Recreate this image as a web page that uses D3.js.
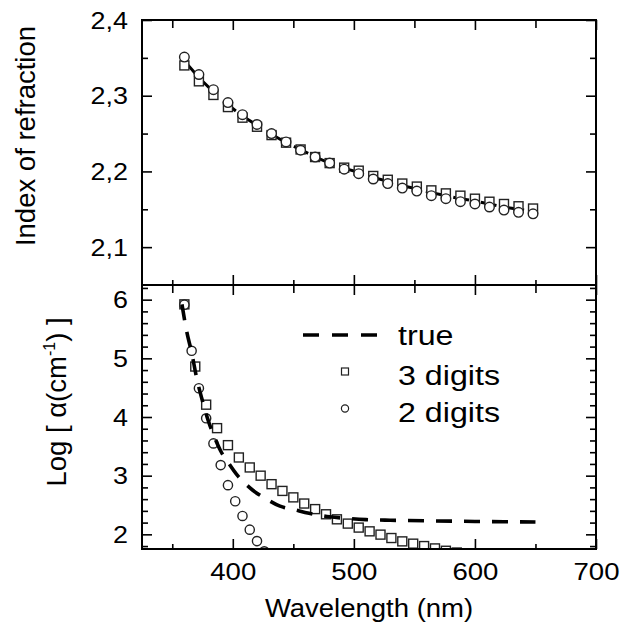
<!DOCTYPE html>
<html>
<head>
<meta charset="utf-8">
<script src="https://cdn.jsdelivr.net/npm/d3@7"></script>
<style>
  body { margin: 0; background: #fff; }
  text { font-family: "Liberation Sans", Arial, sans-serif; fill: #000; }
</style>
</head>
<body>
<div class="chart"></div>
<script>
// ---- data ----
// top panel: index of refraction
var wlTop = [360, 372, 384, 396, 408, 420, 432, 444, 456, 468, 480, 492, 504,
             516, 528, 540, 552, 564, 576, 588, 600, 612, 624, 636, 648];
var nTrue = [2.346, 2.324, 2.305, 2.288, 2.273, 2.261, 2.249, 2.238, 2.229, 2.219, 2.211, 2.204, 2.199,
             2.192, 2.187, 2.181, 2.177, 2.172, 2.168, 2.164, 2.161, 2.157, 2.153, 2.150, 2.148];
var nThree = [2.340, 2.319, 2.301, 2.285, 2.271, 2.259, 2.248, 2.238, 2.229, 2.219, 2.211, 2.205, 2.201,
              2.194, 2.189, 2.184, 2.180, 2.175, 2.171, 2.168, 2.164, 2.160, 2.157, 2.154, 2.151];
var nTwo = [2.351, 2.328, 2.308, 2.291, 2.275, 2.262, 2.250, 2.239, 2.228, 2.219, 2.211, 2.203, 2.197,
            2.190, 2.184, 2.178, 2.174, 2.168, 2.164, 2.160, 2.157, 2.153, 2.149, 2.146, 2.144];

// bottom panel: log of absorption coefficient
var wlLogTrue = [358, 362, 366, 370, 375, 380, 385, 390, 396, 404, 410, 416, 428, 439,
                 451, 463, 480, 495, 510, 530, 560, 600, 650];
var logTrue = [5.92, 5.45, 5.10, 4.68, 4.27, 3.92, 3.65, 3.42, 3.23, 3.00, 2.87, 2.76, 2.60, 2.48,
               2.42, 2.36, 2.30, 2.27, 2.25, 2.24, 2.23, 2.22, 2.21];
var wlThree = [360, 369, 378, 387, 396, 405, 414, 423, 432, 441, 450, 459, 468,
               477, 486, 495, 504, 513, 522, 531, 540, 549, 558, 567, 576, 585];
var logThree = [5.92, 4.86, 4.21, 3.81, 3.52, 3.31, 3.14, 3.00, 2.855, 2.74, 2.63, 2.525, 2.43,
                2.342, 2.256, 2.183, 2.115, 2.051, 1.995, 1.937, 1.88, 1.841, 1.80, 1.76, 1.72, 1.69];
var wlTwo = [360, 366, 372, 378, 384, 390, 396, 402, 408, 414, 420, 426];
var logTwo = [5.915, 5.128, 4.49, 3.978, 3.55, 3.18, 2.838, 2.564, 2.313, 2.08, 1.885, 1.71];

// ticks
var xLabelTicks = [400, 500, 600, 700];
var xAllTicks = [350, 400, 450, 500, 550, 600, 650, 700];
var nLabelTicks = [2.1, 2.2, 2.3, 2.4];
var nAllTicks = [2.1, 2.15, 2.2, 2.25, 2.3, 2.35, 2.4];
var logLabelTicks = [2, 3, 4, 5, 6];
var legendNames = ["true", "3 digits", "2 digits"];

// ---- layout ----
var svgWidth = 626, svgHeight = 633;
var left = 142, right = 596;
var topY0 = 20, midY = 285, botY1 = 549;

var svg = d3.select(".chart").append("svg")
  .attr("width", svgWidth)
  .attr("height", svgHeight);

var x = d3.scaleLinear().domain([325, 700]).range([left, right]);
var yTop = d3.scaleLinear().domain([2.05, 2.4]).range([midY, topY0]);
var yBot = d3.scaleLinear().domain([1.75, 6.25]).range([botY1, midY]);

var commaFmt = d3.formatLocale({decimal: ",", thousands: ".", grouping: [3], currency: ["", ""]}).format(".1f");

// minor tick values for log axis (every 0.2)
var logMinor = [];
for (var v = 1.8; v <= 6.2001; v += 0.2) logMinor.push(+v.toFixed(1));

// inward ticks helper
function ticks(axisMaker, scale, values, size, tx, ty) {
  svg.append("g")
    .attr("transform", "translate(" + tx + "," + ty + ")")
    .call(axisMaker(scale).tickValues(values).tickSizeInner(size).tickSizeOuter(0).tickFormat(""))
    .call(function(g) { g.select(".domain").remove(); })
    .selectAll("line").attr("stroke", "#000").attr("stroke-width", 1.6);
}

var isMajorX = function(d) { return d % 100 === 0; };

// top panel ticks
ticks(d3.axisTop, x, xAllTicks.filter(isMajorX), -10, 0, topY0);
ticks(d3.axisTop, x, xAllTicks.filter(function(d) { return !isMajorX(d); }), -8, 0, topY0);
ticks(d3.axisBottom, x, xAllTicks.filter(isMajorX), -10, 0, midY);
ticks(d3.axisBottom, x, xAllTicks.filter(function(d) { return !isMajorX(d); }), -5, 0, midY);
ticks(d3.axisLeft, yTop, nLabelTicks, -10, left, 0);
ticks(d3.axisLeft, yTop, [2.15, 2.25, 2.35], -6, left, 0);
ticks(d3.axisRight, yTop, nLabelTicks, -10, right, 0);
ticks(d3.axisRight, yTop, [2.15, 2.25, 2.35], -6, right, 0);

// bottom panel ticks
ticks(d3.axisTop, x, xAllTicks.filter(isMajorX), -10, 0, midY);
ticks(d3.axisTop, x, xAllTicks.filter(function(d) { return !isMajorX(d); }), -8, 0, midY);
ticks(d3.axisBottom, x, xAllTicks.filter(isMajorX), -10, 0, botY1);
ticks(d3.axisBottom, x, xAllTicks.filter(function(d) { return !isMajorX(d); }), -5, 0, botY1);
ticks(d3.axisLeft, yBot, logLabelTicks, -10, left, 0);
ticks(d3.axisLeft, yBot, logMinor.filter(function(d) { return d % 1 !== 0; }), -6, left, 0);
ticks(d3.axisRight, yBot, logLabelTicks, -10, right, 0);
ticks(d3.axisRight, yBot, logMinor.filter(function(d) { return d % 1 !== 0; }), -6, right, 0);

// tick labels (stretched a little sideways, like the original)
function labels(axisMaker, scale, values, fmt, tx, ty, place) {
  var g = svg.append("g")
    .attr("transform", "translate(" + tx + "," + ty + ")")
    .call(axisMaker(scale).tickValues(values).tickSize(0).tickFormat(fmt));
  g.select(".domain").remove();
  g.selectAll("text")
    .attr("x", null).attr("y", null).attr("dy", null)
    .attr("font-size", 23)
    .attr("transform", place);
}
labels(d3.axisLeft, yTop, nLabelTicks, commaFmt, left, 0, "translate(-14,8) scale(1.17,1)");
labels(d3.axisLeft, yBot, logLabelTicks, d3.format("d"), left, 0, "translate(-14,8) scale(1.17,1)");
labels(d3.axisBottom, x, xLabelTicks, d3.format("d"), 0, botY1, "translate(0,31) scale(1.2,1)");

// frames
svg.append("rect").attr("x", left).attr("y", topY0).attr("width", right - left).attr("height", midY - topY0)
  .attr("fill", "none").attr("stroke", "#000").attr("stroke-width", 2);
svg.append("rect").attr("x", left).attr("y", midY).attr("width", right - left).attr("height", botY1 - midY)
  .attr("fill", "none").attr("stroke", "#000").attr("stroke-width", 2);

// clip paths
var defs = svg.append("defs");
defs.append("clipPath").attr("id", "clipTop").append("rect")
  .attr("x", left).attr("y", topY0).attr("width", right - left).attr("height", midY - topY0);
defs.append("clipPath").attr("id", "clipBot").append("rect")
  .attr("x", left).attr("y", midY + 1).attr("width", right - left).attr("height", botY1 - midY - 2);

var markerStroke = "#222";

// ---- top panel ----
var gTop = svg.append("g").attr("clip-path", "url(#clipTop)");
gTop.append("path")
  .datum(wlTop.map(function(w, i) { return [w, nTrue[i]]; }))
  .attr("fill", "none").attr("stroke", "#000").attr("stroke-width", 3)
  .attr("stroke-dasharray", "16,12")
  .attr("d", d3.line().x(function(d) { return x(d[0]); }).y(function(d) { return yTop(d[1]); }));
gTop.selectAll("rect.sq").data(wlTop).enter().append("rect").attr("class", "sq")
  .attr("x", function(d) { return x(d) - 4.5; })
  .attr("y", function(d, i) { return yTop(nThree[i]) - 4.5; })
  .attr("width", 9).attr("height", 9)
  .attr("fill", "#fff").attr("stroke", markerStroke).attr("stroke-width", 1.4);
gTop.selectAll("circle").data(wlTop).enter().append("circle")
  .attr("cx", function(d) { return x(d); })
  .attr("cy", function(d, i) { return yTop(nTwo[i]); })
  .attr("r", 4.8)
  .attr("fill", "#fff").attr("stroke", markerStroke).attr("stroke-width", 1.4);

// ---- bottom panel ----
var gBot = svg.append("g").attr("clip-path", "url(#clipBot)");
gBot.selectAll("rect.sq").data(wlThree).enter().append("rect").attr("class", "sq")
  .attr("x", function(d) { return x(d) - 4.5; })
  .attr("y", function(d, i) { return yBot(logThree[i]) - 4.5; })
  .attr("width", 9).attr("height", 9)
  .attr("fill", "#fff").attr("stroke", markerStroke).attr("stroke-width", 1.4);
gBot.selectAll("circle").data(wlTwo).enter().append("circle")
  .attr("cx", function(d) { return x(d); })
  .attr("cy", function(d, i) { return yBot(logTwo[i]); })
  .attr("r", 4.6)
  .attr("fill", "#fff").attr("stroke", markerStroke).attr("stroke-width", 1.4);
gBot.append("path")
  .datum(wlLogTrue.map(function(w, i) { return [w, logTrue[i]]; }))
  .attr("fill", "none").attr("stroke", "#000").attr("stroke-width", 3.6)
  .attr("stroke-dasharray", "16,12")
  .attr("d", d3.line().curve(d3.curveMonotoneX).x(function(d) { return x(d[0]); }).y(function(d) { return yBot(d[1]); }));

// ---- legend ----
var legend = svg.append("g");
legend.append("line").attr("x1", 303).attr("x2", 378).attr("y1", 335).attr("y2", 335)
  .attr("stroke", "#000").attr("stroke-width", 3.6).attr("stroke-dasharray", "16,13");
legend.append("rect").attr("x", 341.5).attr("y", 368).attr("width", 7).attr("height", 7)
  .attr("fill", "#fff").attr("stroke", markerStroke).attr("stroke-width", 1.2);
legend.append("circle").attr("cx", 345).attr("cy", 408.5).attr("r", 3.6)
  .attr("fill", "#fff").attr("stroke", markerStroke).attr("stroke-width", 1.2);
[345, 385, 421.5].forEach(function(yy, i) {
  legend.append("text").attr("transform", "translate(398," + yy + ") scale(1.15,1)")
    .attr("font-size", 28).text(legendNames[i]);
});

// ---- axis titles ----
svg.append("text").attr("transform", "translate(369,617) scale(1.1,1)")
  .attr("text-anchor", "middle").attr("font-size", 25).text("Wavelength (nm)");
svg.append("text").attr("transform", "translate(35,136) rotate(-90)")
  .attr("text-anchor", "middle").attr("font-size", 27.5).text("Index of refraction");
var logTitle = svg.append("text").attr("transform", "translate(66,402) rotate(-90)")
  .attr("text-anchor", "middle").attr("font-size", 27.5);
logTitle.append("tspan").text("Log [ \u03b1(cm");
logTitle.append("tspan").attr("font-size", 16).attr("dy", -11).text("-1");
logTitle.append("tspan").attr("dy", 11).text(") ]");
</script>
</body>
</html>
